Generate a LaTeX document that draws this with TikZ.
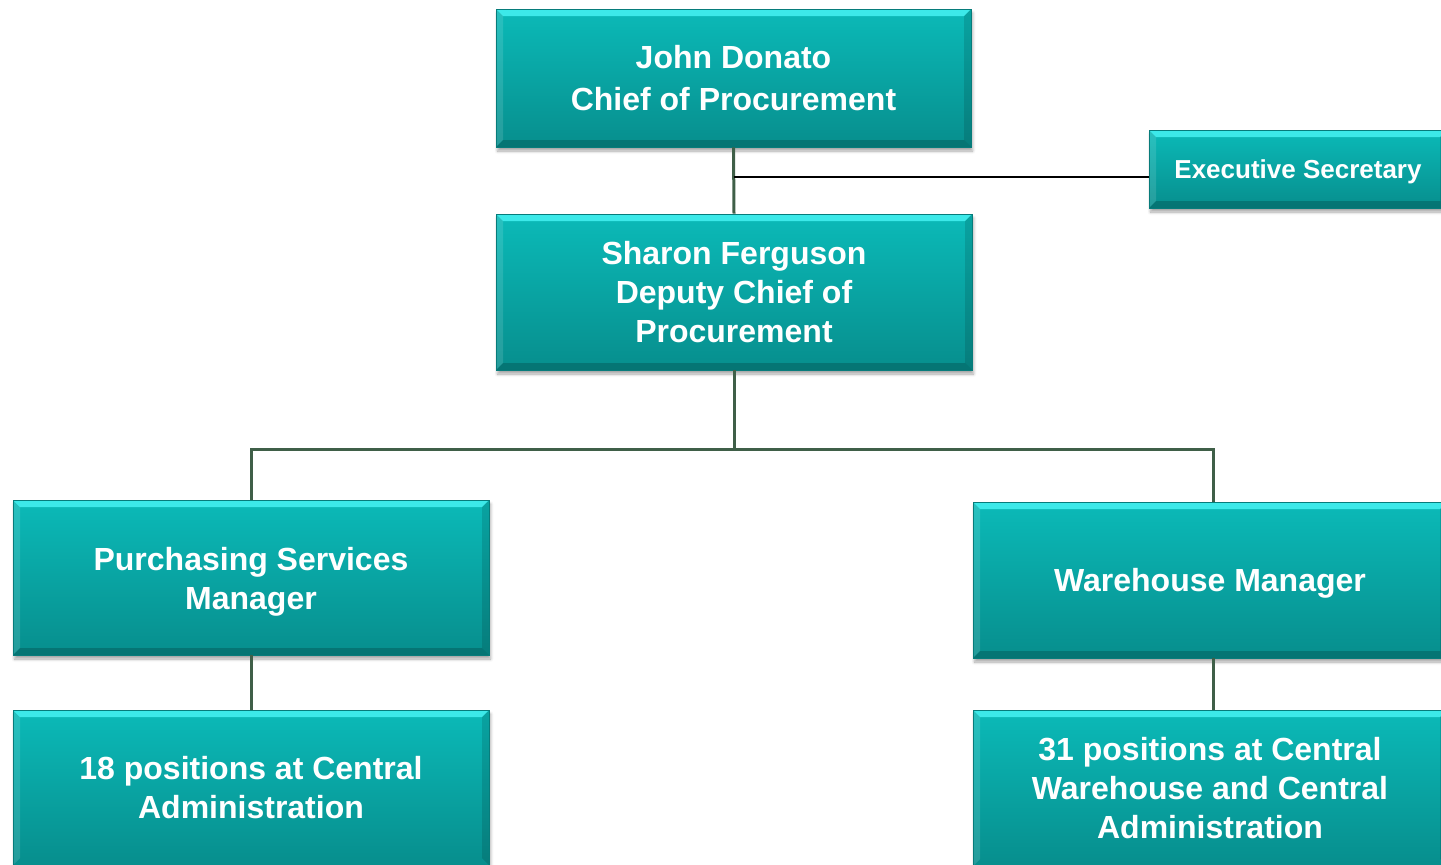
\documentclass[tikz,border=0pt]{standalone}
\usepackage{fontspec}
\setmainfont{Liberation Sans}
\usetikzlibrary{shadows.blur}
\definecolor{tealtop}{HTML}{0BBAB8}
\definecolor{tealbot}{HTML}{078E8D}
\definecolor{bevlight}{HTML}{45F2F2}
\definecolor{bevdark}{HTML}{05605F}
\definecolor{tealedge}{HTML}{077C7B}
\definecolor{conngreen}{HTML}{3F5F48}
\newcommand{\lowertext}[2]{\raisebox{-#1}[\height][\depth]{#2}}
\tikzset{
  orgboxbase/.style={rectangle, inner sep=0pt, text=white, align=center,
    top color=tealtop, bottom color=tealbot, draw=tealedge, line width=0.8pt,
    font=\bfseries\fontsize{32}{39}\selectfont,
    blur shadow={shadow xshift=1.5pt, shadow yshift=-4pt, shadow blur steps=6, shadow blur radius=3pt, shadow opacity=35}},
  topbevel/.style={path picture={
      \fill[bevlight, opacity=0.85] (path picture bounding box.north west) -- (path picture bounding box.north east)
        -- ([xshift=-7pt,yshift=-7pt]path picture bounding box.north east) -- ([xshift=7pt,yshift=-7pt]path picture bounding box.north west) -- cycle;
      \fill[white, opacity=0.12] (path picture bounding box.north west) -- ([xshift=7pt,yshift=-7pt]path picture bounding box.north west)
        -- ([xshift=7pt,yshift=7pt]path picture bounding box.south west) -- (path picture bounding box.south west) -- cycle;
      \fill[black, opacity=0.12] (path picture bounding box.north east) -- ([xshift=-7pt,yshift=-7pt]path picture bounding box.north east)
        -- ([xshift=-7pt,yshift=7pt]path picture bounding box.south east) -- (path picture bounding box.south east) -- cycle;
      #1
    }},
  orgbox/.style={orgboxbase, topbevel={
      \fill[bevdark, opacity=0.55] (path picture bounding box.south west) -- (path picture bounding box.south east)
        -- ([xshift=-7pt,yshift=7pt]path picture bounding box.south east) -- ([xshift=7pt,yshift=7pt]path picture bounding box.south west) -- cycle;}},
  orgboxcut/.style={orgboxbase, topbevel={}},
  conn/.style={draw=conngreen, line width=3pt},
  execline/.style={draw=black, line width=2pt}
}
\begin{document}
\begin{tikzpicture}[x=1pt,y=-1pt]
\useasboundingbox (0,0) rectangle (1441,865);
\coordinate (j1) at (733.5,177);
\coordinate (bus) at (734,449);
\node[orgbox, minimum width=475pt, minimum height=138pt, font=\bfseries\fontsize{32}{42}\selectfont] (top) at (733.5,78) {John Donato\\Chief of Procurement};
\node[orgbox, minimum width=298pt, minimum height=78pt, font=\bfseries\fontsize{26}{31}\selectfont] (exec) at (1298,169) {\lowertext{3pt}{Executive Secretary}};
\node[orgbox, minimum width=476pt, minimum height=156pt] (dep) at (734,292) {Sharon Ferguson\\Deputy Chief of\\Procurement};
\node[orgbox, minimum width=476pt, minimum height=155pt] (purch) at (251,577.5) {\lowertext{4pt}{Purchasing Services}\\\lowertext{4pt}{Manager}};
\node[orgbox, minimum width=474pt, minimum height=156pt] (ware) at (1210,580) {\lowertext{3pt}{Warehouse Manager}};
\node[orgboxcut, minimum width=474pt, minimum height=156pt] (pos31) at (1210,788) {31 positions at Central\\Warehouse and Central\\Administration};
\node[orgboxcut, minimum width=476pt, minimum height=155pt] (pos18) at (251,787.5) {18 positions at Central\\Administration};
\draw[conn] (top.south) -- (dep.north);
\draw[execline] (j1) -- (j1 -| exec.west);
\draw[conn] (dep.south) -- (bus);
\draw[conn] (purch.north) |- (bus) -| ([xshift=3pt]ware.north);
\draw[conn] (purch.south) -- (pos18.north);
\draw[conn] ([xshift=3pt]ware.south) -- ([xshift=3pt]pos31.north);
\end{tikzpicture}
\end{document}
